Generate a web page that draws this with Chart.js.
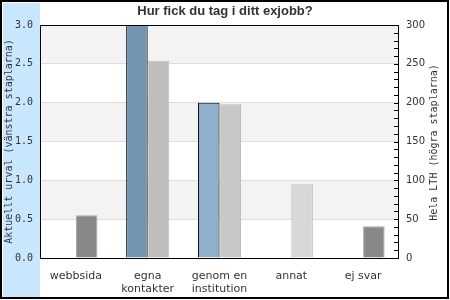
<!DOCTYPE html>
<html><head><meta charset="utf-8">
<script src="https://cdn.jsdelivr.net/npm/chart.js@4/dist/chart.umd.min.js"></script>
<style>html,body{margin:0;padding:0;background:#fff}canvas{display:block}</style>
</head><body>
<canvas id="c" width="450" height="300"></canvas>
<script>
// ---- data ----
const categories = [["webbsida"], ["egna", "kontakter"], ["genom en", "institution"], ["annat"], ["ej svar"]];
const urvalValues = [0, 3, 2, 0, 0];          // left axis (Aktuellt urval)
const lthValues = [55, 254, 198, 95, 41];      // right axis (Hela LTH)
const leftTicks = [0, 0.5, 1, 1.5, 2, 2.5, 3];
const rightTicks = [0, 50, 100, 150, 200, 250, 300];
const rightMinorStep = 10;
const titleText = "Hur fick du tag i ditt exjobb?";
const leftTitle = "Aktuellt urval (vänstra staplarna)";
const rightTitle = "Hela LTH (högra staplarna)";

const urvalColors = ["#7395b0", "#7395b0", "#8fb0cc", "#8fb0cc", "#8fb0cc"];
const lthColors = ["#888888", "#bebebe", "#c8c8c8", "#d8d8d8", "#888888"];
const lthBorders = ["#a8a8a8", "#bebebe", "#bababa", "#bababa", "#a8a8a8"];

const TXT = "#333333";

const decor = {
  id: 'decor',
  beforeDraw(chart) {
    const {ctx, chartArea: a, scales} = chart;
    ctx.save();
    ctx.fillStyle = '#ffffff'; ctx.fillRect(0, 0, 450, 300);
    ctx.fillStyle = '#000000';
    ctx.fillRect(0, 0, 449, 2); ctx.fillRect(0, 297, 449, 2);
    ctx.fillRect(0, 0, 2, 299); ctx.fillRect(447, 0, 2, 299);
    ctx.fillStyle = '#c8e6fc'; ctx.fillRect(3, 3, 37, 294);
    const y = scales.y;
    ctx.fillStyle = '#f3f3f3';
    for (let i = 1; i < leftTicks.length; i += 2) {
      const t = y.getPixelForValue(leftTicks[i + 1]);
      const b = y.getPixelForValue(leftTicks[i]);
      ctx.fillRect(a.left, t, a.right - a.left, b - t);
    }
    ctx.restore();
  },
  afterDatasetsDraw(chart) {
    const {ctx, chartArea: a, scales} = chart;
    ctx.save();
    ctx.strokeStyle = '#000'; ctx.lineWidth = 1;
    ctx.strokeRect(a.left + 0.5, a.top + 0.5, a.right - a.left - 1, a.bottom - a.top);
    const y2 = scales.y2;
    ctx.beginPath();
    for (let v = y2.min; v <= y2.max; v += rightMinorStep) {
      const p = Math.round(y2.getPixelForValue(v)) + 0.5;
      ctx.moveTo(a.right - 5, p); ctx.lineTo(a.right, p);
    }
    ctx.stroke();
    // right axis title (reads bottom-to-top)
    ctx.fillStyle = TXT;
    ctx.font = '10px "DejaVu Sans Mono"';
    ctx.textAlign = 'center'; ctx.textBaseline = 'middle';
    ctx.translate(434, (a.top + a.bottom) / 2 + 1);
    ctx.rotate(-Math.PI / 2);
    ctx.fillText(rightTitle, 0, 0);
    ctx.restore();
  }
};

new Chart(document.getElementById('c'), {
  type: 'bar',
  data: {
    labels: categories,
    datasets: [
      { label: 'Aktuellt urval', data: urvalValues, yAxisID: 'y',
        backgroundColor: urvalColors, borderColor: '#000', borderWidth: 1 },
      { label: 'Hela LTH', data: lthValues, yAxisID: 'y2',
        backgroundColor: lthColors, borderColor: lthBorders, borderWidth: 1 }
    ]
  },
  options: {
    responsive: false, animation: false, devicePixelRatio: 1,
    categoryPercentage: 0.6, barPercentage: 1,
    layout: { padding: 0 },
    plugins: {
      legend: { display: false },
      tooltip: { enabled: false },
      title: { display: true, text: titleText, color: TXT,
        font: { family: '"Liberation Sans", Arial, sans-serif', size: 13, weight: 'bold', lineHeight: 1.2 },
        padding: { top: 3.5, bottom: 5.9 } }
    },
    scales: {
      x: {
        grid: { display: false, drawTicks: false },
        border: { display: false },
        ticks: { color: TXT, padding: 12, maxRotation: 0, autoSkip: false,
          font: { family: '"DejaVu Sans"', size: 11, lineHeight: 1.15 } },
        afterFit(s) { s.height = 42; }
      },
      y: {
        position: 'left', min: 0, max: 3,
        afterBuildTicks(s) { s.ticks = leftTicks.map(v => ({ value: v })); },
        grid: { color: '#dddddd', drawTicks: false },
        border: { display: false },
        ticks: { color: TXT, padding: 7, font: { family: '"DejaVu Sans Mono"', size: 10 },
          callback: v => Number(v).toFixed(1) },
        title: { display: true, text: leftTitle, color: TXT, padding: { top: 3, bottom: 0 },
          font: { family: '"DejaVu Sans Mono"', size: 10 } },
        afterFit(s) { s.width = 40; }
      },
      y2: {
        position: 'right', min: 0, max: 300,
        afterBuildTicks(s) { s.ticks = rightTicks.map(v => ({ value: v })); },
        grid: { drawOnChartArea: false, drawTicks: false },
        border: { display: false },
        ticks: { color: TXT, padding: 7, font: { family: '"DejaVu Sans"', size: 10 } },
        afterFit(s) { s.width = 51; }
      }
    }
  },
  plugins: [decor]
});
</script>
</body></html>
